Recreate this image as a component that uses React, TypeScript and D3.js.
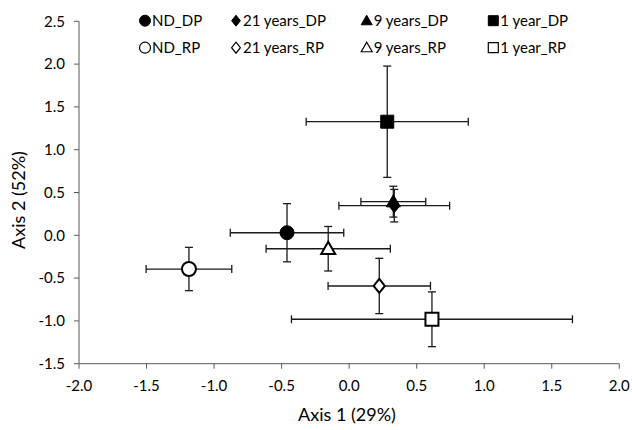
import React from "react";
import * as d3 from "d3";

const names = ["ND_DP", "21 years_DP", "9 years_DP", "1 year_DP", "ND_RP", "21 years_RP", "9 years_RP", "1 year_RP"];
const shapes = ["circle", "diamond", "triangle", "square", "circle", "diamond", "triangle", "square"];
const filled = [true, true, true, true, false, false, false, false];
const xVals = [-0.46, 0.334, 0.327, 0.282, -1.186, 0.223, -0.155, 0.613];
const xErr = [0.42, 0.41, 0.24, 0.6, 0.317, 0.379, 0.46, 1.04];
const yVals = [0.03, 0.346, 0.393, 1.327, -0.394, -0.592, -0.157, -0.981];
const yErr = [0.34, 0.19, 0.18, 0.65, 0.253, 0.323, 0.26, 0.32];
const xTicks = [-2.0, -1.5, -1.0, -0.5, 0.0, 0.5, 1.0, 1.5, 2.0];
const yTicks = [-1.5, -1.0, -0.5, 0.0, 0.5, 1.0, 1.5, 2.0, 2.5];
const xTitle = "Axis 1 (29%)";
const yTitle = "Axis 2 (52%)";

const FONT = "Lato, 'Open Sans', sans-serif";

function Marker({ shape, fill, cx, cy, size, sw }: { shape: string; fill: boolean; cx: number; cy: number; size: number; sw: number }) {
  const fc = fill ? "#000" : "#fff";
  let path: string;
  if (shape === "diamond") {
    const h = size / 2;
    const w = (size / 2) * 0.8;
    path = `M0,${-h}L${w},0L0,${h}L${-w},0Z`;
  } else {
    const symType = shape === "circle" ? d3.symbolCircle : shape === "triangle" ? d3.symbolTriangle : d3.symbolSquare;
    let area = size * size;
    if (shape === "circle") area = Math.PI * (size / 2) * (size / 2);
    if (shape === "triangle") area = (Math.sqrt(3) / 4) * size * size;
    path = d3.symbol().type(symType).size(area)() as string;
  }
  const dy = shape === "triangle" ? size * 0.08 : 0;
  return <path d={path} transform={`translate(${cx},${cy + dy})`} fill={fc} stroke="#000" strokeWidth={fill ? 1 : sw} strokeLinejoin="miter" />;
}

export default function App() {
  const W = 632, H = 430;
  const x = d3.scaleLinear().domain([-2, 2]).range([79, 619.3]);
  const y = d3.scaleLinear().domain([-1.5, 2.5]).range([363.7, 21.3]);
  const axisColor = "#595959";
  const barColor = "#1a1a1a";
  const cap = 4;

  const legendX = [145, 236, 366.7, 493.3];
  const legendY = [20.7, 47.7];

  return (
    <svg width={W} height={H} style={{ position: "absolute", left: 0, top: 0, background: "#fff" }} fontFamily={FONT}>
      <rect x={0} y={0} width={W} height={H} fill="#fff" />
      <line x1={x(-2)} x2={x(-2)} y1={y(2.5)} y2={y(-1.5)} stroke={axisColor} strokeWidth={1} />
      <line x1={x(-2)} x2={x(2)} y1={y(-1.5)} y2={y(-1.5)} stroke={axisColor} strokeWidth={1} />
      {yTicks.map((t) => (
        <g key={"y" + t}>
          <line x1={x(-2) - 5} x2={x(-2)} y1={y(t)} y2={y(t)} stroke={axisColor} />
          <text x={65} y={y(t)} dy="0.35em" textAnchor="end" fontSize={15} fill="#000">
            {d3.format(".1f")(t).replace("−", "-")}
          </text>
        </g>
      ))}
      {xTicks.map((t) => (
        <g key={"x" + t}>
          <line x1={x(t)} x2={x(t)} y1={y(-1.5)} y2={y(-1.5) + 5} stroke={axisColor} />
          <text x={x(t)} y={390.5} textAnchor="middle" fontSize={15} fill="#000">
            {d3.format(".1f")(t).replace("−", "-")}
          </text>
        </g>
      ))}
      <text x={347} y={421} textAnchor="middle" fontSize={18} fill="#000">{xTitle}</text>
      <text transform={`translate(25,200) rotate(-90)`} textAnchor="middle" fontSize={18} fill="#000">{yTitle}</text>

      {names.map((n, i) => {
        const cx = x(xVals[i]), cy = y(yVals[i]);
        const x0 = x(xVals[i] - xErr[i]), x1 = x(xVals[i] + xErr[i]);
        const y0 = y(yVals[i] + yErr[i]), y1 = y(yVals[i] - yErr[i]);
        return (
          <g key={"e" + n} stroke={barColor} strokeWidth={1.3}>
            <line x1={x0} x2={x1} y1={cy} y2={cy} />
            <line x1={x0} x2={x0} y1={cy - cap} y2={cy + cap} />
            <line x1={x1} x2={x1} y1={cy - cap} y2={cy + cap} />
            <line x1={cx} x2={cx} y1={y0} y2={y1} />
            <line x1={cx - cap} x2={cx + cap} y1={y0} y2={y0} />
            <line x1={cx - cap} x2={cx + cap} y1={y1} y2={y1} />
          </g>
        );
      })}
      {names.map((n, i) => (
        <Marker key={"m" + n} shape={shapes[i]} fill={filled[i]} cx={x(xVals[i])} cy={y(yVals[i])} size={shapes[i] === "square" ? 13 : 14} sw={2} />
      ))}

      {names.map((n, i) => {
        const col = i % 4, row = Math.floor(i / 4);
        const lx = legendX[col], ly = legendY[row];
        return (
          <g key={"l" + n}>
            <Marker shape={shapes[i]} fill={filled[i]} cx={lx} cy={ly} size={shapes[i] === "square" ? 10 : 11} sw={1.2} />
            <text x={lx + 7} y={ly} dy="0.36em" fontSize={15} fill="#000">{n}</text>
          </g>
        );
      })}
    </svg>
  );
}
